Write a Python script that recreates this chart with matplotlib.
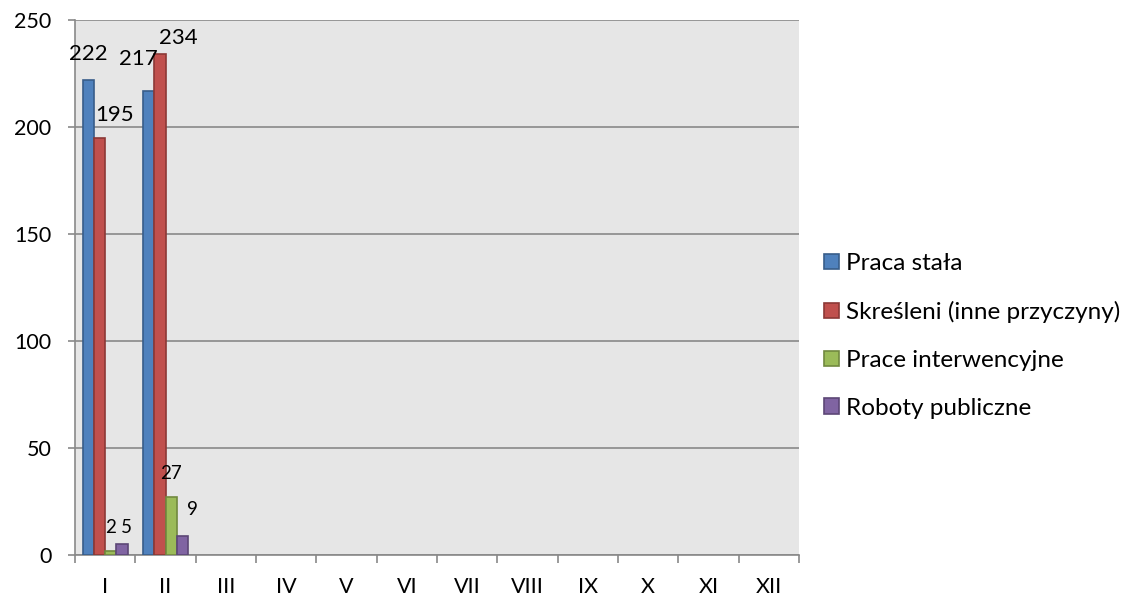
import matplotlib
matplotlib.use("Agg")
import matplotlib.pyplot as plt
import numpy as np
from matplotlib.patches import Patch

plt.rcParams['font.family'] = ['Lato', 'DejaVu Sans']

months = ["I", "II", "III", "IV", "V", "VI", "VII", "VIII", "IX", "X", "XI", "XII"]
series_names = ["Praca stała", "Skreśleni (inne przyczyny)", "Prace interwencyjne", "Roboty publiczne"]
praca_stala = [222, 217, None, None, None, None, None, None, None, None, None, None]
skresleni = [195, 234, None, None, None, None, None, None, None, None, None, None]
prace_interw = [2, 27, None, None, None, None, None, None, None, None, None, None]
roboty_publ = [5, 9, None, None, None, None, None, None, None, None, None, None]
y_ticks = [0, 50, 100, 150, 200, 250]

series = [praca_stala, skresleni, prace_interw, roboty_publ]
face = ["#4F81BD", "#C0504D", "#9BBB59", "#8064A2"]
edge = ["#385D8A", "#8C3836", "#71893F", "#5C4776"]

# label offsets in points (dx, dy) relative to bar top center, per series per month
label_offsets = {
    (0, 0): (0, 19), (1, 0): (11, 16), (2, 0): (0, 16.5), (3, 0): (3, 12),
    (0, 1): (-7, 23), (1, 1): (13, 12), (2, 1): (0, 17), (3, 1): (7, 19),
}

fig = plt.figure(figsize=(11.31, 6.10), dpi=100)
ax = fig.add_axes([75/1131, 55/610, (799-75)/1131, (555-20)/610])
ax.set_facecolor("#E6E6E6")

x = np.arange(len(months))
bw = 0.1875
for i, (vals, fc, ec) in enumerate(zip(series, face, edge)):
    idx = [j for j, v in enumerate(vals) if v is not None]
    pos = x[idx] - 1.5*bw + i*bw
    h = [vals[j] for j in idx]
    ax.bar(pos, h, width=bw, color=fc, edgecolor=ec, linewidth=1.2, zorder=3)
    for p, j, v in zip(pos, idx, h):
        dx, dy = label_offsets.get((i, j), (0, 15))
        fs = 16 if v >= 100 else 13.5
        ax.annotate(str(v), (p, v), xytext=(dx, dy), textcoords="offset points",
                    ha="center", va="center", fontsize=fs, color="black", zorder=5)

ax.set_xlim(-0.5, len(months) - 0.5)
ax.set_ylim(0, 250)
ax.set_yticks(y_ticks)
ax.set_yticklabels([str(t) for t in y_ticks], fontsize=15.5)
ax.yaxis.grid(True, color="#898989", linewidth=1.2, zorder=1)
ax.set_axisbelow(True)

ax.set_xticks(np.arange(-0.5, len(months) + 0.5, 1.0))
ax.set_xticklabels([])
ax.set_xticks(x, minor=True)
ax.set_xticklabels(months, minor=True, fontsize=15.5)
ax.tick_params(axis="x", which="minor", length=0, pad=15.5)
ax.tick_params(axis="x", which="major", length=6, width=1.2, color="#898989", direction="out")
ax.tick_params(axis="y", length=5, width=1.2, color="#898989", direction="out", pad=12)

for s in ["top", "right"]:
    ax.spines[s].set_visible(False)
for s in ["left", "bottom"]:
    ax.spines[s].set_color("#898989")
    ax.spines[s].set_linewidth(1.2)

handles = [Patch(facecolor=fc, edgecolor=ec, linewidth=1.2) for fc, ec in zip(face, edge)]
fig.legend(handles, series_names, loc="center left", bbox_to_anchor=(824/1131, (610-336)/610),
           frameon=False, fontsize=17.5, handlelength=0.6, handleheight=0.6, handletextpad=0.3,
           labelspacing=1.1, borderpad=0, borderaxespad=0)

fig.savefig("out.png", dpi=100)
